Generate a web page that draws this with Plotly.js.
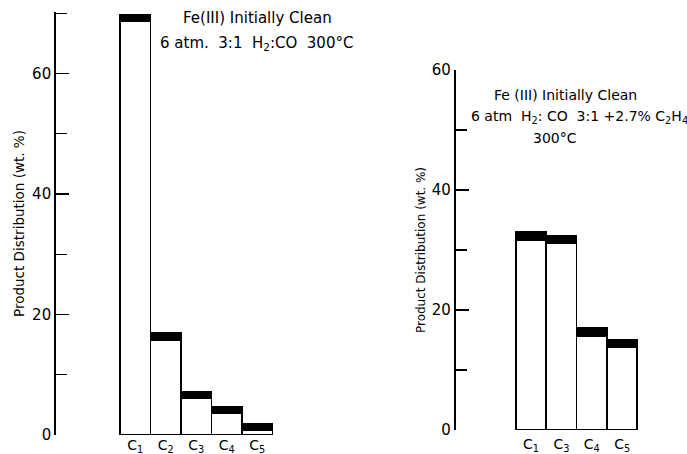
<!DOCTYPE html>
<html>
<head>
<meta charset="utf-8">
<script src="https://cdn.plot.ly/plotly-3.0.1.min.js"></script>
<style>html,body{margin:0;padding:0;background:#fff;}#chart{width:687px;height:454px;}</style>
</head>
<body>
<div id="chart"></div>
<script>
// Left panel: Fe(III) initially clean, 6 atm 3:1 H2:CO, 300 C
const catsLeft = ['C<sub>1</sub>', 'C<sub>2</sub>', 'C<sub>3</sub>', 'C<sub>4</sub>', 'C<sub>5</sub>'];
const baseLeft = [68.7, 15.8, 6.1, 3.7, 0.8];   // open (white) part of each bar
const capLeft  = [1.1, 1.2, 1.1, 1.0, 1.0];     // solid black top segment

// Right panel: Fe(III) initially clean, 6 atm H2:CO 3:1 + 2.7% C2H4, 300 C
const catsRight = ['C<sub>1</sub>', 'C<sub>3</sub>', 'C<sub>4</sub>', 'C<sub>5</sub>'];
const baseRight = [31.7, 31.1, 15.7, 13.9];
const capRight  = [1.4, 1.3, 1.4, 1.2];

const yTitle = 'Product Distribution (wt. %)';
const FONT = 'DejaVu Sans, Liberation Sans, sans-serif';

const W = 687, H = 454;
const px = v => v / W;
const py = v => 1 - v / H;

const outline = {color: '#000', width: 1.8};

const traces = [
  {type: 'bar', x: catsLeft, y: baseLeft, xaxis: 'x', yaxis: 'y',
   marker: {color: '#fff', line: outline}, hoverinfo: 'y', showlegend: false},
  {type: 'bar', x: catsLeft, y: capLeft, xaxis: 'x', yaxis: 'y',
   marker: {color: '#000', line: outline}, hoverinfo: 'y', showlegend: false},
  {type: 'bar', x: catsRight, y: baseRight, xaxis: 'x2', yaxis: 'y2',
   marker: {color: '#fff', line: outline}, hoverinfo: 'y', showlegend: false},
  {type: 'bar', x: catsRight, y: capRight, xaxis: 'x2', yaxis: 'y2',
   marker: {color: '#000', line: outline}, hoverinfo: 'y', showlegend: false}
];

const yCommon = {
  showline: true, linecolor: '#000', linewidth: 1.8,
  ticks: 'inside', ticklen: 13, tickwidth: 1.5, tickcolor: '#000',
  dtick: 20, tick0: 0,
  minor: {dtick: 10, ticks: 'inside', ticklen: 11, tickwidth: 1.2, tickcolor: '#000', showgrid: false},
  showgrid: false, zeroline: false,
  tickfont: {family: FONT, size: 15, color: '#000'}
};
const xCommon = {
  type: 'category', showline: false, showgrid: false, zeroline: false, ticks: '',
  tickfont: {family: FONT, size: 14, color: '#000'}
};

const layout = {
  width: W, height: H,
  margin: {l: 0, r: 0, t: 0, b: 0},
  paper_bgcolor: '#fff', plot_bgcolor: 'rgba(0,0,0,0)',
  barmode: 'stack', bargap: 0,
  showlegend: false,
  font: {family: FONT, color: '#000'},
  xaxis: Object.assign({}, xCommon, {domain: [px(56), px(300)], range: [-2.6, 5.4], anchor: 'y'}),
  yaxis: Object.assign({}, yCommon, {domain: [19 / H, 442 / H], range: [0, 70.2], anchor: 'x',
    title: {text: yTitle, font: {family: FONT, size: 13.5, color: '#000'}, standoff: 4}}),
  xaxis2: Object.assign({}, xCommon, {domain: [px(455.7), px(685)], range: [-2.48, 5.07], anchor: 'y2',
    ticklabelstandoff: 4}),
  yaxis2: Object.assign({}, yCommon, {domain: [24 / H, 384 / H], range: [0, 60], anchor: 'x2',
    title: {text: yTitle, font: {family: FONT, size: 12, color: '#000'}, standoff: 4}}),
  annotations: [
    {text: 'Fe(III) Initially Clean', x: px(257), y: py(18), xref: 'paper', yref: 'paper',
     showarrow: false, xanchor: 'center', yanchor: 'middle', font: {family: FONT, size: 15}},
    {text: '6 atm.  3:1  H<sub>2</sub>:CO  300°C', x: px(256), y: py(44), xref: 'paper', yref: 'paper',
     showarrow: false, xanchor: 'center', yanchor: 'middle', font: {family: FONT, size: 15}},
    {text: 'Fe (III) Initially Clean', x: px(565), y: py(95), xref: 'paper', yref: 'paper',
     showarrow: false, xanchor: 'center', yanchor: 'middle', font: {family: FONT, size: 14}},
    {text: '6 atm  H<sub>2</sub>: CO  3:1 +2.7% C<sub>2</sub>H<sub>4</sub>', x: px(579), y: py(117), xref: 'paper', yref: 'paper',
     showarrow: false, xanchor: 'center', yanchor: 'middle', font: {family: FONT, size: 14}},
    {text: '300°C', x: px(555), y: py(138), xref: 'paper', yref: 'paper',
     showarrow: false, xanchor: 'center', yanchor: 'middle', font: {family: FONT, size: 14}}
  ]
};

Plotly.newPlot('chart', traces, layout, {staticPlot: true, displayModeBar: false});
</script>
</body>
</html>
